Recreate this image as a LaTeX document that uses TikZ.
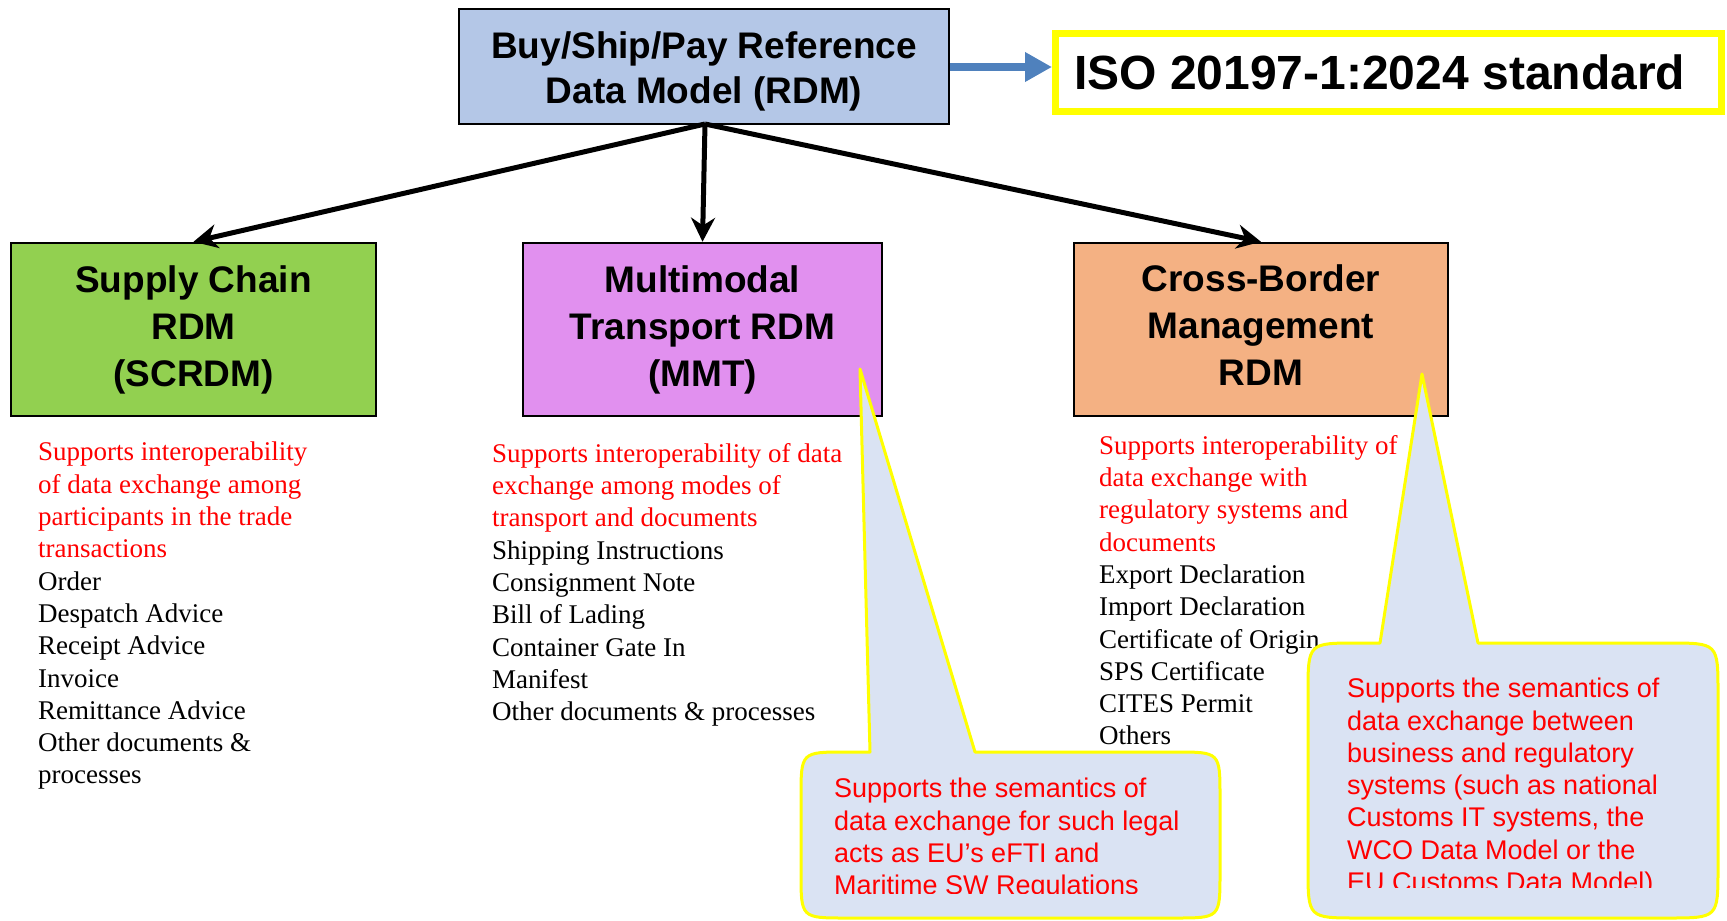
\documentclass[tikz,border=0pt]{standalone}
\usepackage{fontspec}
\setmainfont{Liberation Serif}
\setsansfont{Liberation Sans}
\newfontfamily\arialf{Liberation Sans}
\usetikzlibrary{arrows.meta}
\definecolor{topblue}{HTML}{B4C7E7}
\definecolor{scgreen}{HTML}{92D050}
\definecolor{mmtpink}{HTML}{E190EF}
\definecolor{cborange}{HTML}{F4B183}
\definecolor{arrblue}{HTML}{4F81BD}
\definecolor{calloutfill}{HTML}{DAE3F3}
\definecolor{calloutedge}{HTML}{FFFF00}
\definecolor{redtxt}{HTML}{FF0000}
\tikzset{
  rdmbox/.style={draw=black, line width=2.5pt, inner sep=0pt, align=center,
    font=\arialf\bfseries\fontsize{37}{47}\selectfont},
  listtext/.style={anchor=north west, inner sep=0pt, align=left,
    font=\fontsize{27}{32.3}\selectfont},
  callouttext/.style={anchor=north west, inner sep=0pt, align=left, text=redtxt,
    font=\arialf\fontsize{27}{32.3}\selectfont},
  callout/.style={fill=calloutfill, draw=calloutedge, line width=3pt, line join=round},
  treearrow/.style={line width=5pt, -{Stealth[length=24pt,width=24pt]}},
  isoarrow/.style={draw=arrblue, line width=8pt, -{Triangle[length=27pt,width=28pt]}}
}
\begin{document}
\begin{tikzpicture}[x=1pt,y=-1pt]
\useasboundingbox (0,0) rectangle (1727,921);
% top box
\node[rdmbox, fill=topblue, minimum width=490pt, minimum height=115pt] (top) at (704,66.5) {};
\node[inner sep=0pt, align=center, font=\arialf\bfseries\fontsize{37}{45}\selectfont]
  (toptext) at (704,71) {Buy/Ship/Pay Reference\\Data Model (RDM)};
% ISO box
\node[draw=calloutedge, line width=7pt, minimum width=666pt, minimum height=78pt,
  inner sep=0pt] (iso) at (1388.5,72.5) {};
\node[anchor=west, inner sep=0pt, font=\arialf\bfseries\fontsize{48}{56}\selectfont]
  (isotext) at (1074,72.5) {ISO 20197-1:2024 standard};
\draw[isoarrow] (top.east |- 0,67) -- (iso.west |- 0,67);
% three RDM boxes
\node[rdmbox, fill=scgreen, minimum width=365pt, minimum height=173pt] (sc) at (193.5,329.5)
  {Supply Chain\\RDM\\(SCRDM)};
\node[rdmbox, fill=mmtpink, minimum width=359pt, minimum height=173pt] (mmt) at (702.5,329.5)
  {Multimodal\\Transport RDM\\(MMT)};
\node[rdmbox, fill=cborange, minimum width=374pt, minimum height=173pt] (cb) at (1261,329.5)
  {Cross-Border\\Management\\RDM\vphantom{(g)}};
% tree arrows
\coordinate (hub) at (705,124);
\draw[treearrow] (hub) -- (sc.north);
\draw[treearrow] (hub) -- (mmt.north);
\draw[treearrow] (hub) -- (cb.north);
% lists
\node[listtext] (sclist) at (38,442)
  {\textcolor{redtxt}{Supports interoperability}\\
   \textcolor{redtxt}{of data exchange among}\\
   \textcolor{redtxt}{participants in the trade}\\
   \textcolor{redtxt}{transactions}\\
   Order\\Despatch Advice\\Receipt Advice\\Invoice\\Remittance Advice\\Other documents \&\\processes};
\node[listtext] (mmtlist) at (492,443)
  {\textcolor{redtxt}{Supports interoperability of data}\\
   \textcolor{redtxt}{exchange among modes of}\\
   \textcolor{redtxt}{transport and documents}\\
   Shipping Instructions\\Consignment Note\\Bill of Lading\\Container Gate In\\Manifest\\Other documents \& processes};
\node[listtext] (cblist) at (1099,435)
  {\textcolor{redtxt}{Supports interoperability of}\\
   \textcolor{redtxt}{data exchange with}\\
   \textcolor{redtxt}{regulatory systems and}\\
   \textcolor{redtxt}{documents}\\
   Export Declaration\\Import Declaration\\Certificate of Origin\\SPS Certificate\\CITES Permit\\Others};
% callouts
\draw[callout] (870,752) -- (860,369) -- (975,752) -- (1175,752)
  .. controls (1220,752) .. (1220,797) -- (1220,873)
  .. controls (1220,918) .. (1175,918) -- (846,918)
  .. controls (801,918) .. (801,873) -- (801,797)
  .. controls (801,752) .. (846,752) -- cycle;
\draw[callout] (1380,643) -- (1422,374) -- (1478,643) -- (1668,643)
  .. controls (1718,643) .. (1718,693) -- (1718,868)
  .. controls (1718,918) .. (1668,918) -- (1358,918)
  .. controls (1308,918) .. (1308,868) -- (1308,693)
  .. controls (1308,643) .. (1358,643) -- cycle;
\begin{scope}
\clip (0,0) rectangle (1727,893);
\node[callouttext] (mmtnote) at (834,778)
  {Supports the semantics of\\data exchange for such legal\\acts as EU’s eFTI and\\Maritime SW Regulations};
\end{scope}
\begin{scope}
\clip (0,0) rectangle (1727,887);
\node[callouttext] (cbnote) at (1347,678)
  {Supports the semantics of\\data exchange between\\business and regulatory\\systems (such as national\\Customs IT systems, the\\WCO Data Model or the\\EU Customs Data Model)};
\end{scope}
\end{tikzpicture}
\end{document}
